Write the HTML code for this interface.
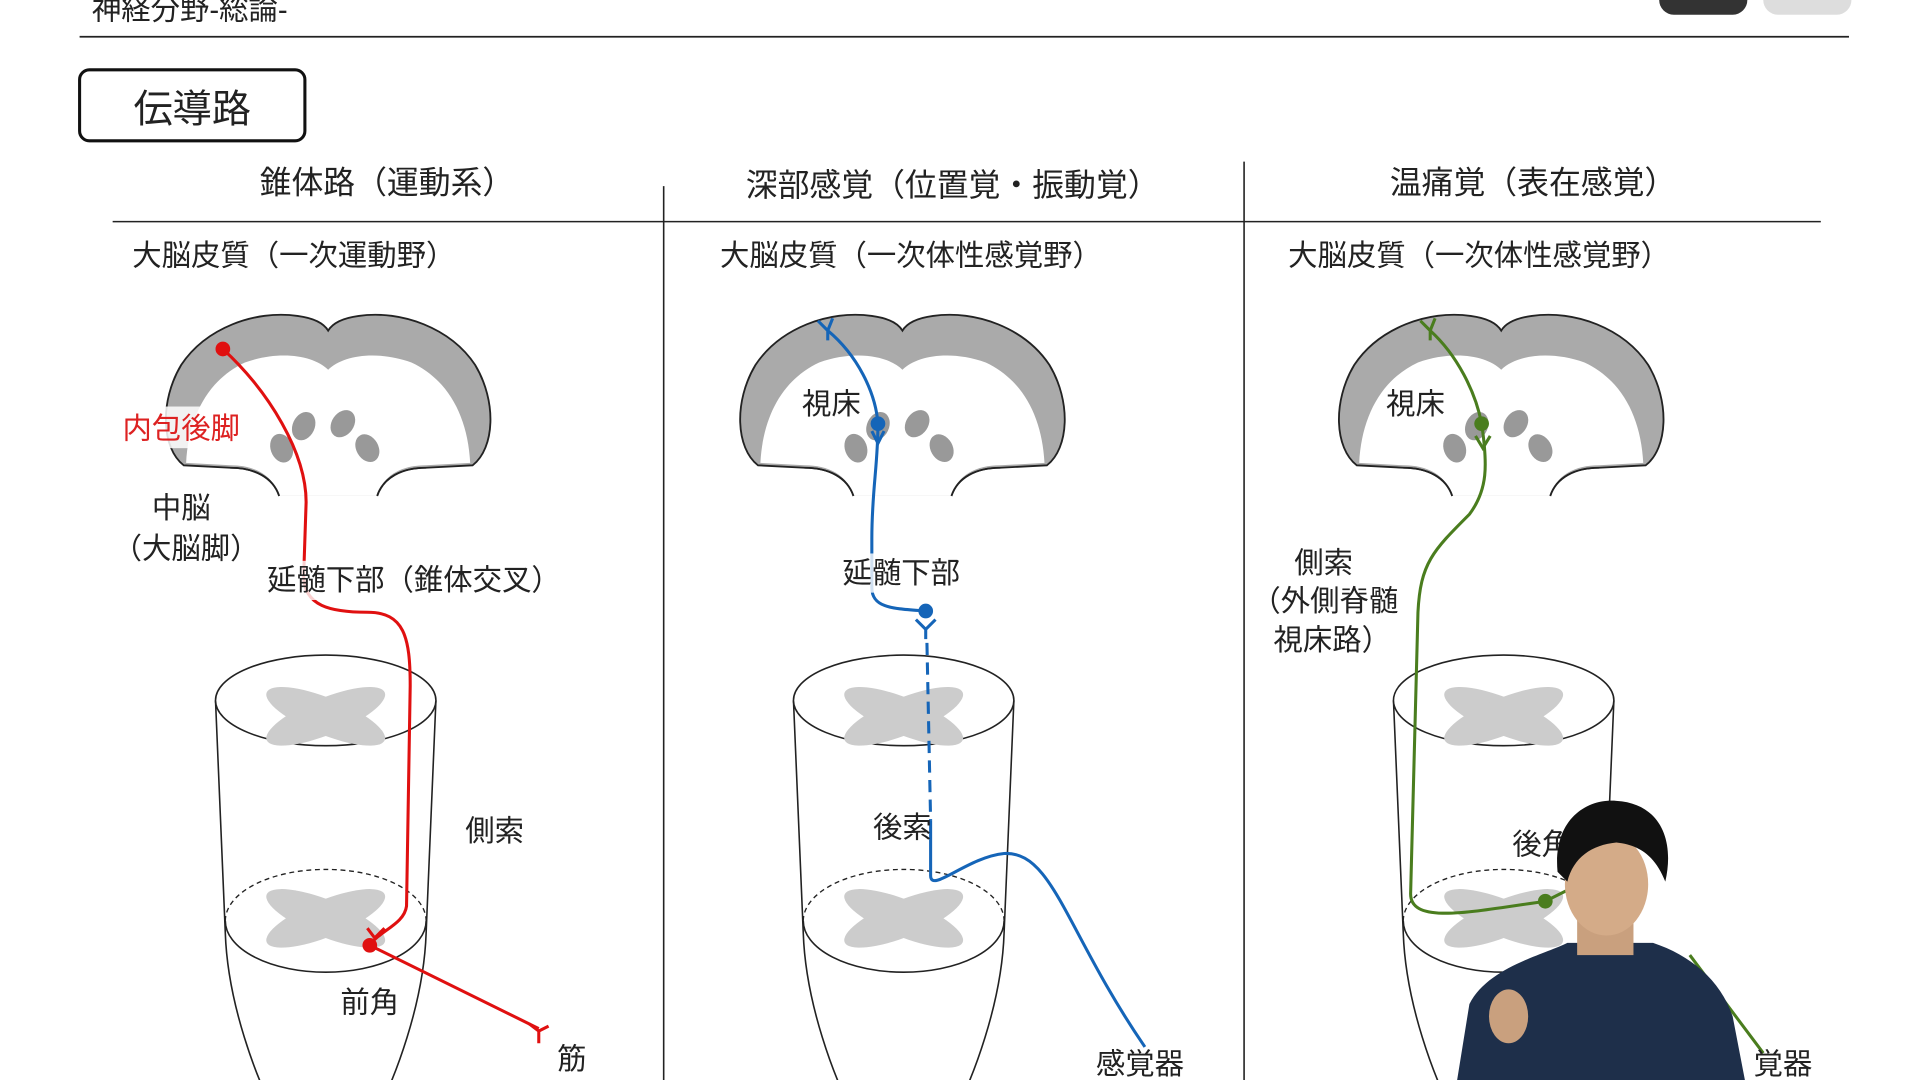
<!DOCTYPE html>
<html><head><meta charset="utf-8"><style>
html,body{margin:0;padding:0;background:#fff;width:1920px;height:1080px;overflow:hidden}
svg{display:block}
text{font-family:"Liberation Sans","Noto Sans CJK JP",sans-serif;fill:#222}
</style></head><body>
<svg width="1920" height="1080" viewBox="0 0 1568 882" xmlns="http://www.w3.org/2000/svg">
<defs>
<g id="brain">
<path d="M -40,137 C -45,122 -60,114 -80,114 L -118,112 C -136,98 -138,60 -120,30 C -100,0 -60,-15 -25,-10 C -10,-8 -3,-3 0,2 C 3,-3 10,-8 25,-10 C 60,-15 100,0 120,30 C 138,60 136,98 118,112 L 80,114 C 60,114 45,122 40,137" fill="#aaa" stroke="#222" stroke-width="1.5"/>
<path d="M -116,110 C -114,72 -98,42 -68,28 C -40,18 -12,22 0,34 C 12,22 40,18 68,28 C 98,42 114,72 116,110 L 80,112 C 60,112 45,120 40,137 L -40,137 C -45,120 -60,112 -80,112 Z" fill="#fff"/>
<path d="M -40,137 C -45,122 -60,114 -80,114 M 40,137 C 45,122 60,114 80,114" fill="none" stroke="#222" stroke-width="1.5"/>
<ellipse cx="-20" cy="80" rx="9" ry="12" transform="rotate(25 -20 80)" fill="#999"/>
<ellipse cx="12" cy="78" rx="9" ry="12" transform="rotate(35 12 78)" fill="#999"/>
<ellipse cx="-38" cy="98" rx="9" ry="12" transform="rotate(-20 -38 98)" fill="#999"/>
<ellipse cx="32" cy="98" rx="9" ry="12" transform="rotate(-30 32 98)" fill="#999"/>
</g>
<g id="xs">
<ellipse cx="0" cy="0" rx="52" ry="15" transform="rotate(22)" fill="#ccc"/>
<ellipse cx="0" cy="0" rx="52" ry="15" transform="rotate(-22)" fill="#ccc"/>
</g>
<g id="cord">
<path d="M -90,0 L -82,190 C -80,250 -55,310 -45,330 M 90,0 L 82,190 C 80,250 55,310 45,330" fill="none" stroke="#222" stroke-width="1.3"/>
<ellipse cx="0" cy="0" rx="90" ry="37" fill="#fff" stroke="#222" stroke-width="1.3"/>
<use href="#xs" x="0" y="13"/>
<path d="M -82,180 A 82,42 0 0 1 82,180" fill="none" stroke="#222" stroke-width="1.1" stroke-dasharray="4,3"/>
<path d="M -82,180 A 82,42 0 0 0 82,180" fill="none" stroke="#222" stroke-width="1.3"/>
<use href="#xs" x="0" y="178"/>
</g>
</defs>

<text x="75" y="16" font-size="24">神経分野-総論-</text>
<line x1="65" y1="30" x2="1510" y2="30" stroke="#222" stroke-width="1.5"/>
<rect x="1355" y="-12" width="72" height="24" rx="12" fill="#333"/>
<rect x="1440" y="-12" width="72" height="24" rx="12" fill="#ddd"/>

<rect x="65" y="57" width="184" height="58" rx="8" fill="#fff" stroke="#111" stroke-width="2.5"/>
<text x="157" y="100" font-size="32" text-anchor="middle">伝導路</text>

<text x="316" y="158" font-size="26" text-anchor="middle">錐体路（運動系）</text>
<text x="778" y="160" font-size="26" text-anchor="middle">深部感覚（位置覚・振動覚）</text>
<text x="1252" y="158" font-size="26" text-anchor="middle">温痛覚（表在感覚）</text>
<line x1="92" y1="181" x2="1487" y2="181" stroke="#222" stroke-width="1.3"/>
<line x1="542" y1="152" x2="542" y2="882" stroke="#222" stroke-width="1.3"/>
<line x1="1016" y1="132" x2="1016" y2="882" stroke="#222" stroke-width="1.3"/>

<text x="108" y="217" font-size="24">大脳皮質（一次運動野）</text>
<text x="588" y="217" font-size="24">大脳皮質（一次体性感覚野）</text>
<text x="1052" y="217" font-size="24">大脳皮質（一次体性感覚野）</text>

<use href="#brain" x="268" y="268"/>
<use href="#brain" x="737" y="268"/>
<use href="#brain" x="1226" y="268"/>

<use href="#cord" x="266" y="572"/>
<use href="#cord" x="738" y="572"/>
<use href="#cord" x="1228" y="572"/>

<!-- red -->
<rect x="98" y="332" width="108" height="34" fill="#fff" opacity="0.85"/>
<text x="100" y="358" font-size="24" style="fill:#d22">内包後脚</text>
<path d="M182,285 C 220,320 250,370 250,410 L 248,470 C 248,495 270,500 300,500 C 330,500 335,520 335,560 L 332,740 C 330,755 310,760 302,772 L 440,840" fill="none" stroke="#e01010" stroke-width="2.5"/>
<path d="M432,836 L440,842 L448,838 M440,842 L440,852" fill="none" stroke="#e01010" stroke-width="2.5"/>
<path d="M300,758 L306,766 L314,758" fill="none" stroke="#e01010" stroke-width="2.5"/>
<circle cx="182" cy="285" r="6" fill="#e01010"/>
<circle cx="302" cy="772" r="6" fill="#e01010"/>
<text x="124" y="423" font-size="24">中脳</text>
<text x="92" y="456" font-size="24">（大脳脚）</text>
<rect x="215" y="458" width="235" height="32" fill="#fff" opacity="0.8"/>
<text x="218" y="482" font-size="24">延髄下部（錐体交叉）</text>
<text x="380" y="687" font-size="24">側索</text>
<text x="278" y="827" font-size="24">前角</text>
<text x="455" y="873" font-size="24">筋</text>

<!-- blue -->
<path d="M676,270 C 700,290 715,320 717,346 C 717,380 712,400 712,440 L 712,480 C 712,497 730,497 756,499" fill="none" stroke="#1565b8" stroke-width="2.5"/>
<path d="M668,262 L676,270 L680,260 M676,270 L676,278" fill="none" stroke="#1565b8" stroke-width="2.5"/>
<path d="M712,352 L717,362 L722,352" fill="none" stroke="#1565b8" stroke-width="2.5"/>
<path d="M748,506 L756,514 L764,506 M756,514 L756,522" fill="none" stroke="#1565b8" stroke-width="2.5"/>
<path d="M757,525 L760,670" fill="none" stroke="#1565b8" stroke-width="2.5" stroke-dasharray="10,6"/>
<path d="M760,670 L760,715 C 760,730 790,700 820,697 C 860,695 870,760 935,855" fill="none" stroke="#1565b8" stroke-width="2.5"/>
<circle cx="717" cy="346" r="6" fill="#1565b8"/>
<circle cx="756" cy="499" r="6" fill="#1565b8"/>
<text x="655" y="338" font-size="24">視床</text>
<rect x="686" y="452" width="110" height="32" fill="#fff" opacity="0.8"/>
<text x="688" y="476" font-size="24">延髄下部</text>
<text x="713" y="684" font-size="24">後索</text>
<text x="895" y="877" font-size="24">感覚器</text>

<!-- green -->
<path d="M1168,270 C 1190,290 1205,320 1210,346 C 1215,380 1215,400 1200,420 C 1170,450 1160,460 1158,500 L 1152,730 C 1152,755 1200,745 1262,736 L 1290,722" fill="none" stroke="#4a7d1e" stroke-width="2.5"/>
<path d="M1160,262 L1168,270 L1172,260 M1168,270 L1168,278" fill="none" stroke="#4a7d1e" stroke-width="2.5"/>
<path d="M1205,356 L1211,366 L1217,356" fill="none" stroke="#4a7d1e" stroke-width="2.5"/>
<path d="M1380,780 L1440,860" fill="none" stroke="#4a7d1e" stroke-width="2.5"/>
<circle cx="1210" cy="346" r="6" fill="#4a7d1e"/>
<circle cx="1262" cy="736" r="6" fill="#4a7d1e"/>
<text x="1132" y="338" font-size="24">視床</text>
<text x="1057" y="468" font-size="24">側索</text>
<text x="1022" y="499" font-size="24">（外側脊髄</text>
<text x="1040" y="531" font-size="24">視床路）</text>
<text x="1235" y="698" font-size="24">後角</text>
<text x="1432" y="877" font-size="24">覚器</text>

<!-- presenter -->
<path d="M1190,882 L1200,820 C 1215,790 1260,780 1280,770 L1350,770 C 1380,780 1405,800 1415,830 L1425,882 Z" fill="#1e2f4a"/>
<rect x="1288" y="740" width="46" height="40" fill="#c9a07e"/>
<ellipse cx="1312" cy="722" rx="34" ry="42" fill="#d4ab88"/>
<path d="M1272,712 C 1268,670 1295,652 1320,654 C 1355,656 1368,685 1360,720 C 1352,700 1340,690 1320,688 C 1300,690 1285,700 1280,720 Z" fill="#111"/>
<ellipse cx="1232" cy="830" rx="16" ry="22" fill="#c9a07e"/>
</svg>
</body></html>
